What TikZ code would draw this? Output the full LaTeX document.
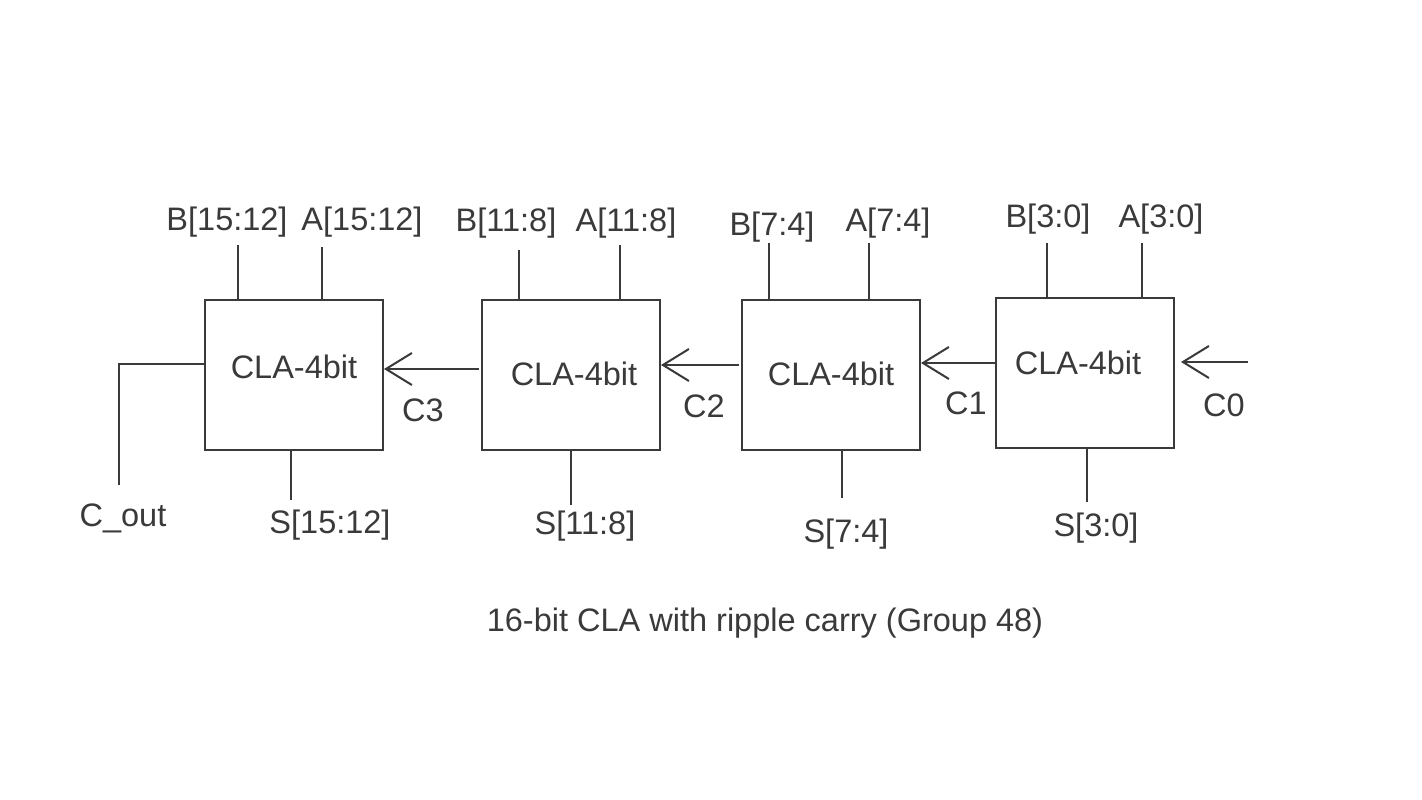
\documentclass[tikz,border=0pt]{standalone}
\usepackage{fontspec}
\setmainfont{Liberation Sans}
\usetikzlibrary{arrows.meta}
\definecolor{ink}{HTML}{3A3A3A}
\begin{document}
\begin{tikzpicture}[x=1pt,y=-1pt,
  wire/.style={draw=ink,line width=2pt},
  arr/.style={wire,-{Straight Barb[length=26pt,width=32pt,line width=2pt]}},
  blk/.style={draw=ink,line width=2pt,minimum width=178pt,minimum height=150pt,inner sep=0pt,fill=none},
  lbl/.style={text=ink,font=\fontsize{32.5}{38}\selectfont,inner sep=0pt}]
\useasboundingbox[fill=white] (0,0) rectangle (1422,800);
% blocks
\node[blk] (b1) at (294,375) {};
\node[blk] (b2) at (571,375) {};
\node[blk] (b3) at (831,375) {};
\node[blk] (b4) at (1085,373) {};
\node[lbl] (t1) at (294,367) {CLA-4bit};
\node[lbl] (t2) at (574,374) {CLA-4bit};
\node[lbl] (t3) at (831,374) {CLA-4bit};
\node[lbl] (t4) at (1078,363) {CLA-4bit};
% input labels
\node[lbl] (lb1) at (227,222) {B[15:12]};
\node[lbl] (la1) at (362,222) {A[15:12]};
\node[lbl] (lb2) at (506,223) {B[11:8]};
\node[lbl] (la2) at (626,223) {A[11:8]};
\node[lbl] (lb3) at (772,227) {B[7:4]};
\node[lbl] (la3) at (888,223) {A[7:4]};
\node[lbl] (lb4) at (1048,219) {B[3:0]};
\node[lbl] (la4) at (1161,219) {A[3:0]};
% output labels
\node[lbl] (ls1) at (330,525) {S[15:12]};
\node[lbl] (ls2) at (585,526) {S[11:8]};
\node[lbl] (ls3) at (846,534) {S[7:4]};
\node[lbl] (ls4) at (1096,528) {S[3:0]};
\node[lbl] (lco) at (123,518) {C\_out};
% carry labels
\node[lbl] (lc3) at (423,410) {C3};
\node[lbl] (lc2) at (704,406) {C2};
\node[lbl] (lc1) at (966,403) {C1};
\node[lbl] (lc0) at (1224,405) {C0};
% title
\node[lbl] (title) at (765,623) {16-bit CLA with ripple carry (Group 48)};
% input wire ends
\coordinate (wb1) at (238,245); \coordinate (wa1) at (322,247);
\coordinate (wb2) at (519,250); \coordinate (wa2) at (620,245);
\coordinate (wb3) at (769,243); \coordinate (wa3) at (869,243);
\coordinate (wb4) at (1047,243); \coordinate (wa4) at (1142,243);
\draw[wire] (wb1) -- (wb1 |- b1.north);
\draw[wire] (wa1) -- (wa1 |- b1.north);
\draw[wire] (wb2) -- (wb2 |- b2.north);
\draw[wire] (wa2) -- (wa2 |- b2.north);
\draw[wire] (wb3) -- (wb3 |- b3.north);
\draw[wire] (wa3) -- (wa3 |- b3.north);
\draw[wire] (wb4) -- (wb4 |- b4.north);
\draw[wire] (wa4) -- ([yshift=-2pt]wa4 |- b4.north);
% sum wire ends
\coordinate (ws1) at (291,500);
\coordinate (ws2) at (571,505);
\coordinate (ws3) at (842,498);
\coordinate (ws4) at (1087,502);
\draw[wire] (ws1 |- b1.south) -- (ws1);
\draw[wire] (ws2 |- b2.south) -- (ws2);
\draw[wire] (ws3 |- b3.south) -- (ws3);
\draw[wire] (ws4 |- b4.south) -- (ws4);
% carry out
\coordinate (co1) at (118,364);
\coordinate (co2) at (119,485);
\draw[wire] (b1.west |- co1) -- (co1);
\draw[wire] (co1 -| co2) -- (co2);
% carries
\coordinate (c0) at (1248,362);
\draw[arr] ([xshift=-2pt]b2.west |- 0,369) -- (b1.east |- 0,369);
\draw[arr] ([xshift=-2pt]b3.west |- 0,365) -- (b2.east |- 0,365);
\draw[arr] (b4.west |- 0,363) -- (b3.east |- 0,363);
\draw[arr,shorten >=6pt] (c0) -- (b4.east |- c0);
\end{tikzpicture}
\end{document}
